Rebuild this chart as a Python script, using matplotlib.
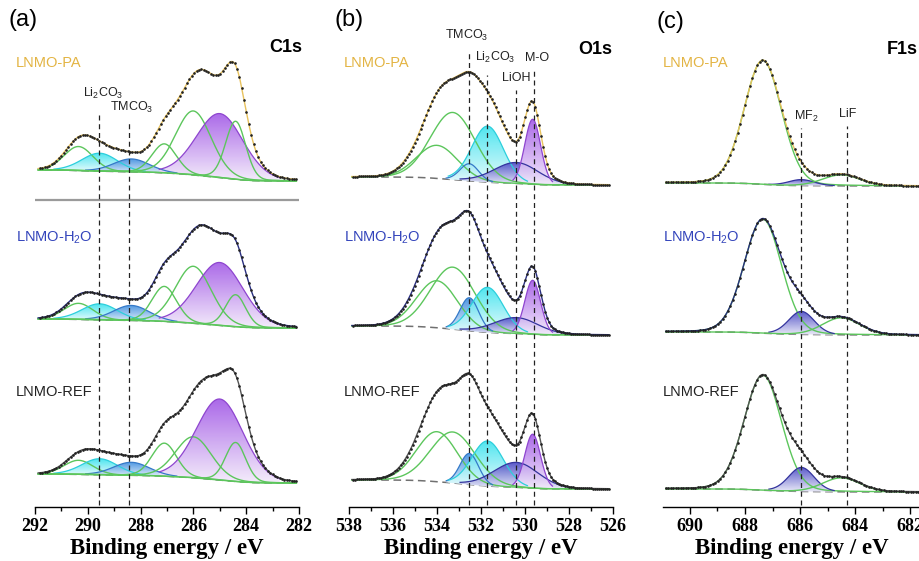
import matplotlib
matplotlib.use('Agg')
import matplotlib.pyplot as plt
import numpy as np
from matplotlib.ticker import MultipleLocator

plt.rcParams['font.family'] = ['Liberation Sans', 'DejaVu Sans']
plt.rcParams['mathtext.fontset'] = 'custom'
plt.rcParams['mathtext.rm'] = 'Liberation Sans'
plt.rcParams['mathtext.default'] = 'rm'

# ---- peak fit parameters (height in arbitrary units) ----
samples = ['LNMO-PA', 'LNMO-H$_2$O', 'LNMO-REF']

c1s_kinds = ['other', 'Li2CO3', 'TMCO3', 'other', 'other', 'CC', 'other']
c1s_centers = [290.35, 289.55, 288.35, 287.1, 286.0, 285.0, 284.4]
c1s_fwhm = [1.3, 1.6, 1.6, 1.1, 1.6, 2.1, 0.9]
c1s_pa = [24, 18, 13, 29, 64, 64, 58]
c1s_h2o = [16, 16, 15, 35, 57, 63, 32]
c1s_ref = [14, 16, 13, 33, 41, 81, 39]
c1s_range = (282.1, 291.9)

o1s_kinds = ['other', 'other', 'TMCO3', 'Li2CO3', 'LiOH', 'MO']
o1s_centers = [534.0, 533.28, 532.53, 531.7, 530.4, 529.65]
o1s_fwhm = [2.2, 2.4, 1.0, 1.7, 2.4, 0.85]
o1s_pa = [33, 67, 17, 56, 21, 65]
o1s_h2o = [47, 62, 33, 45, 16, 54]
o1s_ref = [50, 51, 31, 45, 25, 54]
o1s_range = (526.2, 537.9)

f1s_kinds = ['other', 'MF2', 'other']
f1s_centers = [687.35, 685.95, 684.5]
f1s_fwhm = [1.6, 1.1, 1.6]
f1s_pa = [124, 6, 11]
f1s_h2o = [114, 23, 17]
f1s_ref = [115, 24, 14]
f1s_range = (681.7, 690.9)

# reference lines: (label, line energy, label energy)
c1s_refs = [('Li$_2$CO$_3$', 289.58, 289.42), ('TMCO$_3$', 288.45, 288.33)]
o1s_refs = [('TMCO$_3$', 532.55, 532.65), ('Li$_2$CO$_3$', 531.75, 531.36),
            ('LiOH', 530.4, 530.41), ('M-O', 529.6, 529.47)]
f1s_refs = [('MF$_2$', 685.95, 685.76), ('LiF', 684.3, 684.27)]

# ---- styles ----
sample_colors = ['#E3B443', '#3344BB', '#222222']
env_colors = ['#E8C25E', '#2A2F80', '#555555']
green = '#5CC65C'
fill_styles = {
    'CC': ('#A259E6', '#F3EAFB', '#8E45CF'),
    'Li2CO3': ('#3DE3EE', '#E8FBFD', '#2CCFDC'),
    'TMCO3': ('#3F8EDF', '#E0EDFA', '#3479C8'),
    'LiOH': ('#4747C4', '#E8E8F7', '#34349E'),
    'MO': ('#A259E6', '#F3EAFB', '#8E45CF'),
    'MF2': ('#4747C4', '#E8E8F7', '#34349E'),
}

W, H = 920, 561
fig = plt.figure(figsize=(W / 100, H / 100), dpi=100)
AX_BOTTOM = 507  # pixel row of the energy axis


def pv(x, c, h, w, eta=0.1):
    u = (x - c) / w
    return h * ((1 - eta) * np.exp(-4 * np.log(2) * u ** 2) + eta / (1 + 4 * u ** 2))


def grad_fill(ax, x, base, top, c_top, c_bot, z):
    poly = ax.fill_between(x, base, top, color='none', lw=0, zorder=z)
    n = 64
    t = np.linspace(0, 1, n)[:, None]
    ct = np.array(matplotlib.colors.to_rgb(c_top))
    cb = np.array(matplotlib.colors.to_rgb(c_bot))
    img = (cb + (ct - cb) * t)[:, None, :]
    im = ax.imshow(img, extent=[x.min(), x.max(), base.min(), top.max()],
                   origin='lower', aspect='auto', zorder=z, alpha=0.9)
    im.set_clip_path(poly.get_paths()[0], transform=ax.transData)


def draw_spectrum(ax, rng, centers, heights, fwhm, kinds, offset, step, i, eta):
    x = np.arange(rng[0], rng[1], 0.03)
    comps = [pv(x, c, h, w, eta) for c, h, w in zip(centers, heights, fwhm)]
    total = np.sum(comps, axis=0)
    cum = np.cumsum(total)
    cum = cum / cum[-1]
    bg = offset + step * cum
    env = bg + total
    ax.plot(x, bg, color='#707070', lw=1.1, ls=(0, (5, 3)), zorder=2)
    for comp, kind in zip(comps, kinds):
        if kind == 'other':
            ax.plot(x, bg + comp, color=green, lw=1.0, zorder=4)
        else:
            ct, cb, ce = fill_styles[kind]
            m = comp > 0.05 * comp.max()
            grad_fill(ax, x[m], bg[m], (bg + comp)[m], ct, cb, 3)
            ax.plot(x[m], (bg + comp)[m], color=ce, lw=0.9, zorder=4)
    ax.plot(x, env, color=env_colors[i], lw=1.0, zorder=5)
    ax.plot(x[::3], env[::3], '.', color='#222222', ms=1.8, zorder=6)


panels = [
    ('(a)', 'C1s', (292, 282), 35, 264, c1s_range, c1s_centers, c1s_fwhm, c1s_kinds,
     [c1s_pa, c1s_h2o, c1s_ref], [326, 179, 24], [11, 9, 9], c1s_refs,
     [(93, 113), (107, 121)], 0.1),
    ('(b)', 'O1s', (538, 526), 349, 264, o1s_range, o1s_centers, o1s_fwhm, o1s_kinds,
     [o1s_pa, o1s_h2o, o1s_ref], [322, 172, 18], [8, 9, 9], o1s_refs,
     [(35, 52), (57, 75), (78, 90), (58, 70)], 0.05),
    ('(c)', 'F1s', (690.98, 681.64), 663, 257, f1s_range, f1s_centers, f1s_fwhm, f1s_kinds,
     [f1s_pa, f1s_h2o, f1s_ref], [321, 172, 15], [3, 3, 3], f1s_refs,
     [(116, 128), (114, 126)], 0.1),
]
tag_px = [(8, 20), (335, 20), (657, 22)]
core_px = [(302, 48), (612, 50), (918, 50)]
sample_px_x = [16, 344, 663]
sample_px_y = [63, 238, 392]

for p, (tag, core, xlim, left, width, rng, cen, fw, kinds, heights, offs, steps,
        refs, ref_px, eta) in enumerate(panels):
    ax = fig.add_axes([left / W, (H - AX_BOTTOM) / H, width / W, AX_BOTTOM / H])
    for i in range(3):
        draw_spectrum(ax, rng, cen, heights[i], fw, kinds, offs[i], steps[i], i, eta)
    for (lab, e, ex), (ly, ytop) in zip(refs, ref_px):
        ax.plot([e, e], [2, AX_BOTTOM - ytop], color='#222222', lw=0.9,
                ls=(0, (4, 3)), zorder=7)
        ax.text(ex, AX_BOTTOM - ly, lab, fontsize=9, ha='center', va='center',
                color='#222222', zorder=8)
    if p == 0:
        ax.plot([292, 282], [AX_BOTTOM - 200] * 2, color='#9A9A9A', lw=1.6, zorder=1)
    ax.set_xlim(*xlim)
    ax.set_ylim(0, AX_BOTTOM)
    for s in ['left', 'right', 'top']:
        ax.spines[s].set_visible(False)
    ax.spines['bottom'].set_linewidth(1.0)
    ax.set_yticks([])
    ax.xaxis.set_major_locator(MultipleLocator(2))
    ax.xaxis.set_minor_locator(MultipleLocator(1))
    ax.tick_params(axis='x', which='major', length=5, width=1, direction='out', pad=3)
    ax.tick_params(axis='x', which='minor', length=3, width=1, direction='out')
    for t in ax.get_xticklabels():
        t.set_fontfamily('Liberation Serif')
        t.set_fontweight('bold')
        t.set_fontsize(13)
    ax.set_xlabel('Binding energy / eV', fontfamily='Liberation Serif',
                  fontweight='bold', fontsize=16.5, labelpad=2)
    ax.patch.set_alpha(0)

    fig.text(tag_px[p][0] / W, 1 - tag_px[p][1] / H, tag, fontsize=17,
             ha='left', va='center')
    fig.text(core_px[p][0] / W, 1 - core_px[p][1] / H, core, fontsize=13,
             fontweight='bold', ha='right', va='center')
    for i, name in enumerate(samples):
        fig.text(sample_px_x[p] / W, 1 - sample_px_y[i] / H, name,
                 fontsize=10.5, color=sample_colors[i], ha='left', va='center')

fig.savefig('out.png', dpi=100)
